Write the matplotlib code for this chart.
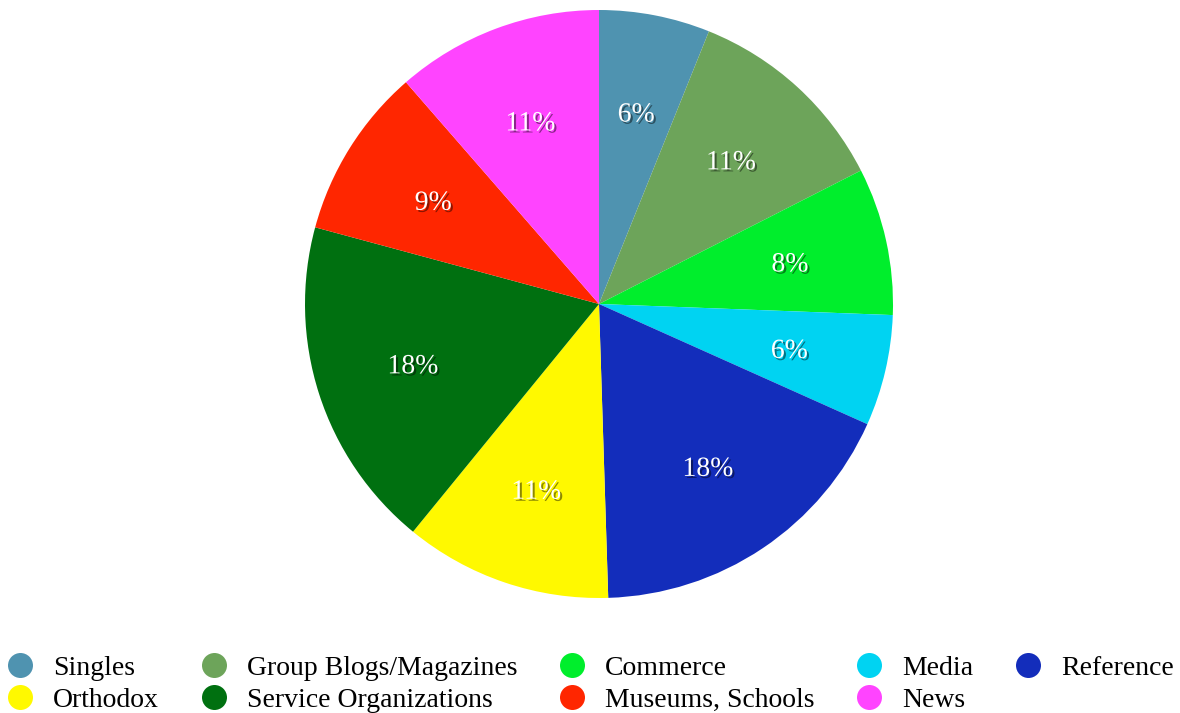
import matplotlib
matplotlib.use("Agg")
import matplotlib.pyplot as plt
import matplotlib.patheffects as pe
from matplotlib.lines import Line2D

categories = ["Singles", "Group Blogs/Magazines", "Commerce", "Media", "Reference",
              "Orthodox", "Service Organizations", "Museums, Schools", "News"]
values = [6.1, 11.4, 8.1, 6.1, 17.8, 11.4, 18.3, 9.4, 11.4]
colors = ["#4F93B0", "#6DA45A", "#00EE2C", "#00D3F2", "#132DBB",
          "#FFF900", "#007010", "#FF2600", "#FF44FF"]

FONT = "Liberation Serif"

fig = plt.figure(figsize=(11.8, 7.13), dpi=100)
ax = fig.add_axes([299/1180, 109/713, 600/1180, 600/713])
wedges, texts, autotexts = ax.pie(values, colors=colors, startangle=90, counterclock=False,
                                  autopct="%.0f%%", pctdistance=0.665,
                                  wedgeprops=dict(linewidth=0))
lim = 300/294
ax.set_xlim(-lim, lim)
ax.set_ylim(-lim, lim)
ax.set_aspect("equal")
ax.axis("off")
for t in autotexts:
    t.set_color("white")
    t.set_fontsize(20)
    t.set_family(FONT)
    t.set_va("center_baseline")
    t.set_path_effects([pe.withSimplePatchShadow(offset=(1.5, -1.5), shadow_rgbFace="black", alpha=0.45)])

order = [0, 5, 1, 6, 2, 7, 3, 8, 4]
handles = [Line2D([], [], marker="o", linestyle="none", markersize=18,
                  markerfacecolor=colors[i], markeredgewidth=0) for i in order]
labels = [categories[i] for i in order]
fig.legend(handles, labels, ncol=5, loc="lower center", bbox_to_anchor=(0.5, -0.035),
           frameon=False, prop={"family": FONT, "size": 20},
           handletextpad=0.7, columnspacing=1.46, labelspacing=0.23, handlelength=1.0)

fig.savefig("out.png", dpi=100)
